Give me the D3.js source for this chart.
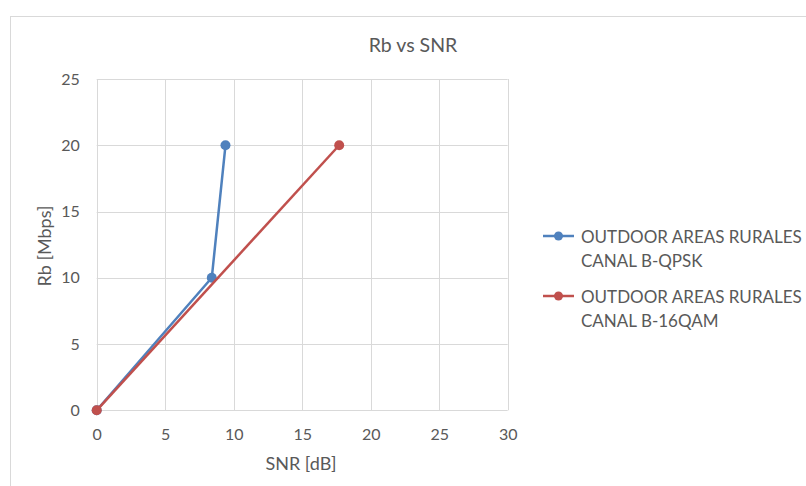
<!DOCTYPE html>
<html>
<head>
<meta charset="utf-8">
<script src="https://cdn.jsdelivr.net/npm/d3@7"></script>
<style>
  body { margin: 0; background: #fff; }
  svg { display: block; font-family: Lato, "Open Sans", sans-serif; }
</style>
</head>
<body>
<svg id="chart" width="806" height="486"></svg>
<script>
// Bit rate vs SNR for rural outdoor areas, channel B
const xTicks = [0, 5, 10, 15, 20, 25, 30];
const yTicks = [0, 5, 10, 15, 20, 25];
const qpskSnr = [0, 8.4, 9.4];
const qpskRb = [0, 10, 20];
const qamSnr = [0, 17.7];
const qamRb = [0, 20];
const seriesNames = [
  ["OUTDOOR AREAS RURALES", "CANAL B-QPSK"],
  ["OUTDOOR AREAS RURALES", "CANAL B-16QAM"]
];
const seriesColors = ["#4f81bd", "#c0504d"];

const series = [
  { pts: qpskSnr.map((s, i) => [s, qpskRb[i]]), name: seriesNames[0], color: seriesColors[0] },
  { pts: qamSnr.map((s, i) => [s, qamRb[i]]), name: seriesNames[1], color: seriesColors[1] }
];

const svg = d3.select("#chart");
const plotL = 96.7, plotR = 507.7, plotT = 79, plotB = 410.3;
const x = d3.scaleLinear().domain([0, 30]).range([plotL, plotR]);
const y = d3.scaleLinear().domain([0, 25]).range([plotB, plotT]);

// outer chart frame
svg.append("rect").attr("x", 10.5).attr("y", 16.5).attr("width", 830).attr("height", 500)
  .attr("fill", "none").attr("stroke", "#d9d9d9");

// gridlines
svg.append("g").selectAll("line").data(yTicks).join("line")
  .attr("x1", plotL).attr("x2", plotR)
  .attr("y1", d => Math.round(y(d)) + 0.5).attr("y2", d => Math.round(y(d)) + 0.5)
  .attr("stroke", "#d9d9d9");
svg.append("g").selectAll("line").data(xTicks).join("line")
  .attr("y1", plotT).attr("y2", plotB)
  .attr("x1", d => Math.round(x(d)) + 0.5).attr("x2", d => Math.round(x(d)) + 0.5)
  .attr("stroke", "#d9d9d9");

// axes (tick labels only)
const xAxis = svg.append("g").attr("transform", `translate(0,${plotB})`)
  .call(d3.axisBottom(x).tickValues(xTicks).tickSize(0).tickPadding(18));
const yAxis = svg.append("g").attr("transform", `translate(${plotL},0)`)
  .call(d3.axisLeft(y).tickValues(yTicks).tickSize(0).tickPadding(17));
[xAxis, yAxis].forEach(a => {
  a.select(".domain").remove();
  a.selectAll("text").attr("fill", "#595959").style("font-size", "16px")
    .style("font-family", "Lato, 'Open Sans', sans-serif");
});

// title and axis titles
svg.append("text").attr("x", 413).attr("y", 52).attr("text-anchor", "middle")
  .attr("fill", "#595959").style("font-size", "19.5px").text("Rb vs SNR");
svg.append("text").attr("x", 301).attr("y", 470).attr("text-anchor", "middle")
  .attr("fill", "#595959").style("font-size", "18px").text("SNR [dB]");
svg.append("text").attr("transform", "translate(51,246) rotate(-90)").attr("text-anchor", "middle")
  .attr("fill", "#595959").style("font-size", "18px").text("Rb [Mbps]");

// series lines and markers
const line = d3.line().x(d => x(d[0])).y(d => y(d[1]));
series.forEach(s => {
  svg.append("path").datum(s.pts).attr("d", line)
    .attr("fill", "none").attr("stroke", s.color).attr("stroke-width", 2.5)
    .attr("stroke-linejoin", "round");
  svg.append("g").selectAll("circle").data(s.pts).join("circle")
    .attr("cx", d => x(d[0])).attr("cy", d => y(d[1])).attr("r", 5)
    .attr("fill", s.color);
});

// legend
const legend = svg.append("g").selectAll("g").data(series).join("g")
  .attr("transform", (d, i) => `translate(0,${236 + i * 60})`);
legend.append("line").attr("x1", 543).attr("x2", 574).attr("y1", 0).attr("y2", 0)
  .attr("stroke", d => d.color).attr("stroke-width", 2.5);
legend.append("circle").attr("cx", 558.5).attr("cy", 0).attr("r", 4.5).attr("fill", d => d.color);
legend.append("text").attr("x", 581).attr("y", 7).attr("fill", "#595959").style("font-size", "17px")
  .selectAll("tspan").data(d => d.name).join("tspan")
  .attr("x", 581).attr("dy", (d, i) => i === 0 ? 0 : 24).text(d => d);
</script>
</body>
</html>
